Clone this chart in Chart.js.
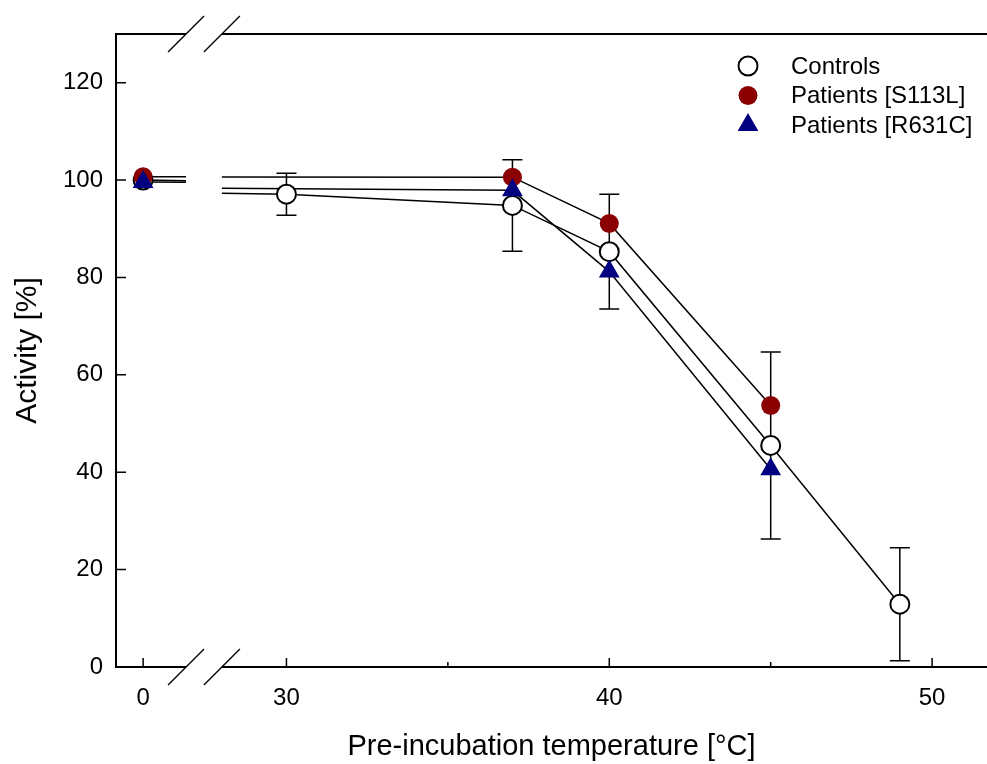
<!DOCTYPE html>
<html>
<head>
<meta charset="utf-8">
<script src="https://cdn.jsdelivr.net/npm/chart.js@4.4.1/dist/chart.umd.min.js"></script>
<style>
    body { margin: 0; background: #fff; }
    canvas { display: block; }
</style>
</head>
<body>
<canvas id="plot" width="987" height="764"></canvas>
<script>
// pre-incubation temperature, degrees C
var temps = [0, 30, 37, 40, 45, 49];
// activity in %
var controls = [100.0, 97.1, 94.8, 85.3, 45.5, 12.9];
var controlsErr = [null, 4.3, 9.4, 11.8, 19.2, 11.6];
var s113l = [100.7, null, 100.6, 91.1, 53.7, null];
var r631c = [99.6, null, 97.9, 81.2, 40.6, null];

var seriesNames = ["Controls", "Patients [S113L]", "Patients [R631C]"];

var xTicks = [0, 30, 40, 50];
var xMinorTicks = [35, 45];
var yTicks = [0, 20, 40, 60, 80, 100, 120];

// broken x axis: 0 .. breakFrom | gap | breakTo .. end
var breakFrom = 1.33, breakTo = 28, breakGap = 1.11;
var xMin = -0.84, xMax = 51.7;
function toAxis(t) {
    return t <= breakFrom ? t : t - breakTo + breakFrom + breakGap;
}
function fromAxis(u) {
    return u <= breakFrom ? u : u - breakFrom - breakGap + breakTo;
}
function crossesBreak(u0, u1) {
    return u0 <= breakFrom && u1 > breakFrom;
}

function points(vals) {
    return temps.map((t, i) => {
        return vals[i] == null ? null : {x: toAxis(t), y: vals[i]};
    }).filter(p => p);
}

var FONT = "'Liberation Sans', Arial, sans-serif";

function lineSet(vals) {
    return {
        data: points(vals),
        showLine: true,
        borderColor: "#000",
        borderWidth: 1.5,
        pointRadius: 0,
        order: 10,
        // the part across the axis break is drawn by the plugin
        segment: {
            borderColor: function(c) {
                return crossesBreak(c.p0.parsed.x, c.p1.parsed.x) ? "rgba(0,0,0,0)" : "#000";
            }
        },
    };
}

var markerSets = [
    {
        label: seriesNames[0],
        data: points(controls),
        showLine: false,
        pointStyle: "circle",
        pointRadius: 9.5,
        pointBackgroundColor: "#ffffff",
        pointBorderColor: "#000000",
        pointBorderWidth: 2,
        order: 3,
    },
    {
        label: seriesNames[1],
        data: points(s113l),
        showLine: false,
        pointStyle: "circle",
        pointRadius: 9.5,
        pointBackgroundColor: "#8b0000",
        pointBorderColor: "#8b0000",
        pointBorderWidth: 0,
        order: 2,
    },
    {
        label: seriesNames[2],
        data: points(r631c),
        showLine: false,
        pointStyle: "triangle",
        pointRadius: 12,
        pointBackgroundColor: "#000080",
        pointBorderColor: "#000080",
        pointBorderWidth: 0,
        order: 1,
    },
];

var decorations = {
    id: "decorations",
    beforeDatasetsDraw: function(chart) {
        var ctx = chart.ctx, xs = chart.scales.x, ys = chart.scales.y;
        ctx.save();
        ctx.strokeStyle = "#000";

        // error bars of the controls
        ctx.lineWidth = 1.5;
        temps.forEach((t, i) => {
            var e = controlsErr[i];
            if (e == null) return;
            var px = xs.getPixelForValue(toAxis(t));
            var top = ys.getPixelForValue(controls[i] + e);
            var bot = ys.getPixelForValue(controls[i] - e);
            ctx.beginPath();
            ctx.moveTo(px, top); ctx.lineTo(px, bot);
            ctx.moveTo(px - 10, top); ctx.lineTo(px + 10, top);
            ctx.moveTo(px - 10, bot); ctx.lineTo(px + 10, bot);
            ctx.stroke();
        });

        // connecting lines that run through the axis break (straight in real temperature)
        [controls, s113l, r631c].forEach(vals => {
            var idx = temps.map((t, i) => i).filter(i => vals[i] != null);
            for (var k = 0; k + 1 < idx.length; k++) {
                var a = idx[k], b = idx[k + 1];
                if (!crossesBreak(toAxis(temps[a]), toAxis(temps[b]))) continue;
                var at = function(t) {
                    return vals[a] + (vals[b] - vals[a]) * (t - temps[a]) / (temps[b] - temps[a]);
                };
                ctx.beginPath();
                ctx.moveTo(xs.getPixelForValue(toAxis(temps[a])), ys.getPixelForValue(vals[a]));
                ctx.lineTo(xs.getPixelForValue(breakFrom), ys.getPixelForValue(at(breakFrom)));
                ctx.moveTo(xs.getPixelForValue(toAxis(breakTo)), ys.getPixelForValue(at(breakTo)));
                ctx.lineTo(xs.getPixelForValue(toAxis(temps[b])), ys.getPixelForValue(vals[b]));
                ctx.stroke();
            }
        });
        ctx.restore();
    },
    afterDatasetsDraw: function(chart) {
        var ctx = chart.ctx, xs = chart.scales.x, ys = chart.scales.y;
        var area = chart.chartArea;
        var g0 = xs.getPixelForValue(breakFrom);
        var g1 = xs.getPixelForValue(breakFrom + breakGap);
        ctx.save();

        // frame
        ctx.strokeStyle = "#000";
        ctx.lineWidth = 2;
        ctx.beginPath();
        ctx.moveTo(area.left, area.top); ctx.lineTo(area.left, area.bottom + 1);
        [area.top, area.bottom].forEach(y => {
            ctx.moveTo(area.left - 1, y); ctx.lineTo(g0, y);
            ctx.moveTo(g1, y); ctx.lineTo(area.right, y);
        });
        ctx.stroke();

        // ticks, pointing inwards
        ctx.lineWidth = 1.5;
        ctx.beginPath();
        xTicks.forEach(t => {
            var px = xs.getPixelForValue(toAxis(t));
            ctx.moveTo(px, area.bottom); ctx.lineTo(px, area.bottom - 9);
        });
        xMinorTicks.forEach(t => {
            var px = xs.getPixelForValue(toAxis(t));
            ctx.moveTo(px, area.bottom); ctx.lineTo(px, area.bottom - 5);
        });
        yTicks.forEach(v => {
            var py = ys.getPixelForValue(v);
            ctx.moveTo(area.left, py); ctx.lineTo(area.left + 10, py);
        });
        ctx.stroke();

        // break marks
        ctx.lineWidth = 1.3;
        ctx.beginPath();
        [area.top, area.bottom].forEach(y => {
            [g0, g1].forEach(x => {
                ctx.moveTo(x - 18, y + 18); ctx.lineTo(x + 18, y - 18);
            });
        });
        ctx.stroke();

        // legend
        var lx = area.right - 239, tx = area.right - 196;
        markerSets.forEach((ds, i) => {
            var y = area.top + 32 + i * 29.5;
            ctx.fillStyle = ds.pointBackgroundColor;
            ctx.strokeStyle = ds.pointBorderColor;
            ctx.lineWidth = ds.pointBorderWidth;
            Chart.helpers.drawPoint(ctx, {
                pointStyle: ds.pointStyle,
                radius: ds.pointRadius,
                borderWidth: ds.pointBorderWidth,
                rotation: 0,
            }, lx, y);
            ctx.fillStyle = "#000";
            ctx.font = "24px " + FONT;
            ctx.textAlign = "left";
            ctx.textBaseline = "middle";
            ctx.fillText(ds.label, tx, y + 1);
        });
        ctx.restore();
    }
};

var chart = new Chart(document.getElementById("plot"), {
    type: "scatter",
    data: {
        datasets: [lineSet(controls), lineSet(s113l), lineSet(r631c)].concat(markerSets),
    },
    options: {
        responsive: false,
        animation: false,
        events: [],
        layout: {autoPadding: false, padding: {top: 34, right: 0, bottom: 0, left: 0}},
        plugins: {
            legend: {display: false},
            tooltip: {enabled: false},
        },
        scales: {
            x: {
                type: "linear",
                min: toAxis(xMin),
                max: toAxis(xMax),
                afterFit: function(s) {
                    s.height = 97;
                    s.paddingLeft = 0;
                    s.paddingRight = 0;
                },
                afterBuildTicks: function(s) {
                    s.ticks = xTicks.map(t => ({value: toAxis(t)}));
                },
                grid: {display: false, drawTicks: false},
                border: {display: false},
                ticks: {
                    autoSkip: false,
                    maxRotation: 0,
                    padding: 17,
                    color: "#000",
                    font: {family: FONT, size: 24},
                    callback: function(v) { return String(Math.round(fromAxis(v))); },
                },
                title: {
                    display: true,
                    text: "Pre-incubation temperature [°C]",
                    color: "#000",
                    font: {family: FONT, size: 29},
                    padding: {top: 0, bottom: 0},
                },
            },
            y: {
                min: 0,
                max: 130,
                afterFit: function(s) {
                    s.width = 116;
                    s.paddingTop = 0;
                    s.paddingBottom = 0;
                },
                afterBuildTicks: function(s) {
                    s.ticks = yTicks.map(v => ({value: v}));
                },
                grid: {display: false, drawTicks: false},
                border: {display: false},
                ticks: {
                    padding: 13,
                    color: "#000",
                    font: {family: FONT, size: 24},
                },
                title: {
                    display: true,
                    text: "Activity [%]",
                    color: "#000",
                    font: {family: FONT, size: 30},
                    padding: {top: 10, bottom: 0},
                },
            },
        },
    },
    plugins: [decorations],
});
</script>
</body>
</html>
